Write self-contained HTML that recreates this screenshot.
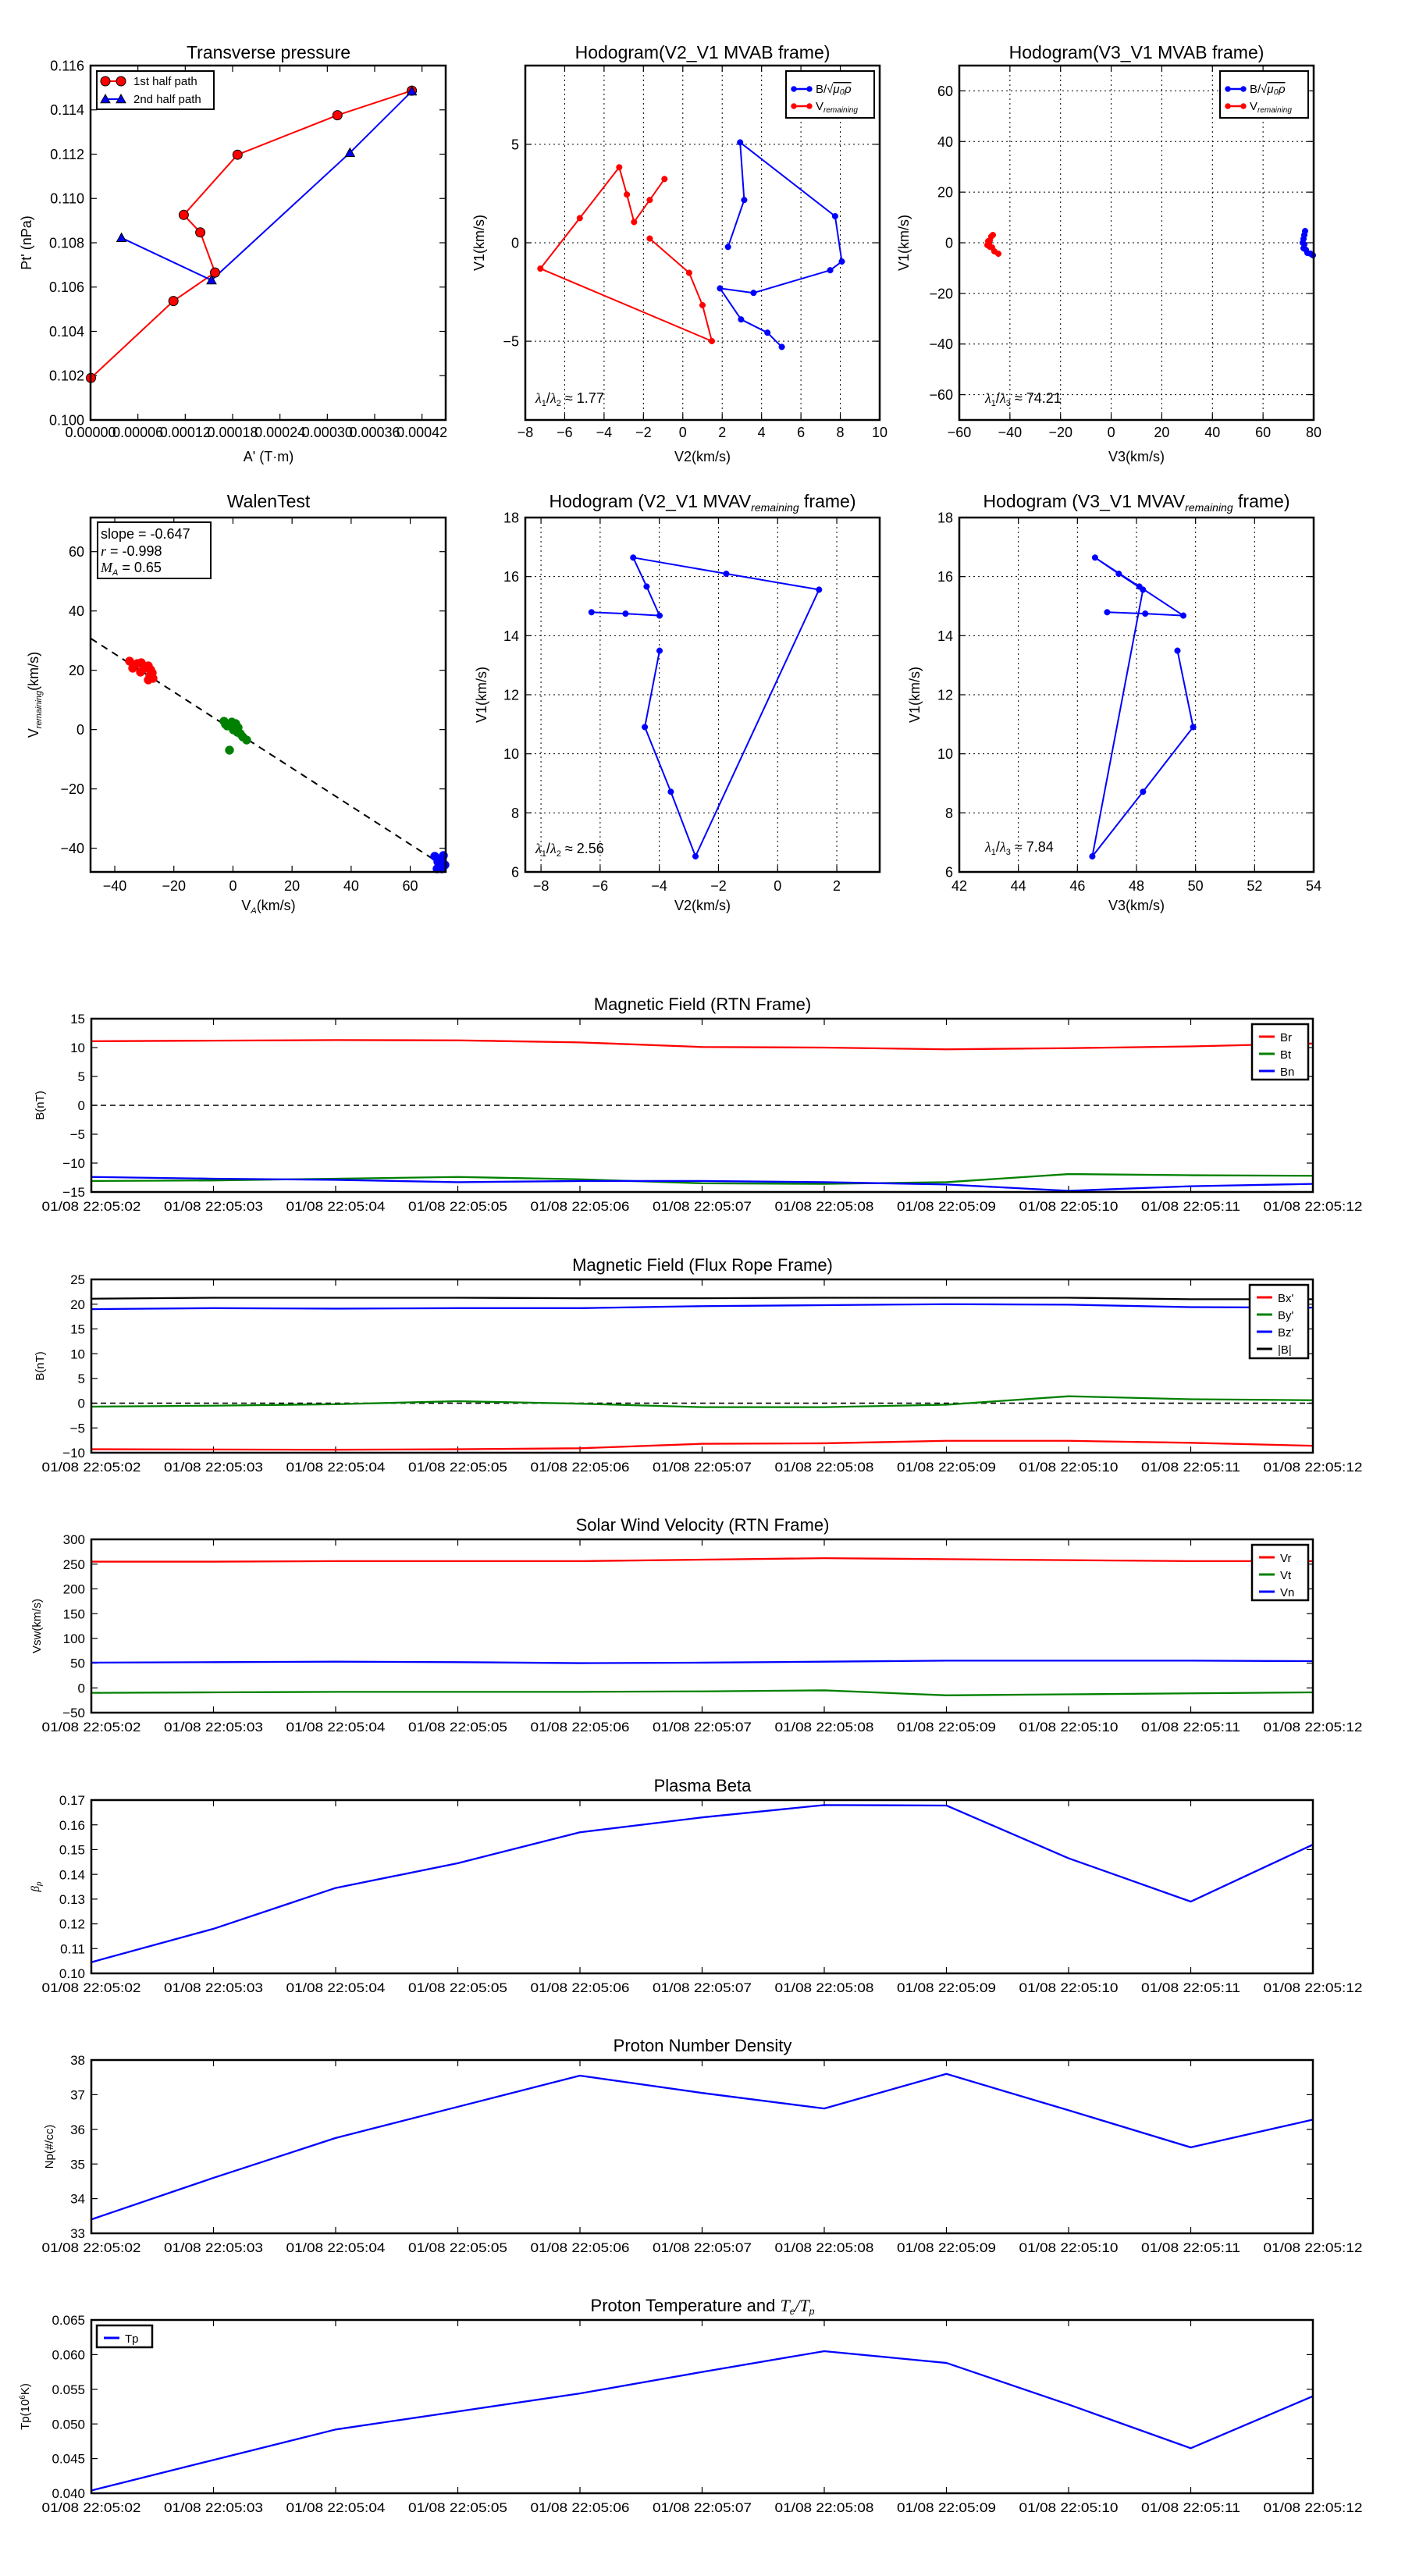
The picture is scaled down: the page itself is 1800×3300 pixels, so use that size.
<!DOCTYPE html>
<html><head><meta charset="utf-8">
<style>
html,body{margin:0;padding:0;background:#fff;}
svg{display:block;font-family:"Liberation Sans","DejaVu Sans",sans-serif;}
</style></head>
<body>
<svg id="s" xmlns="http://www.w3.org/2000/svg" width="1800" height="3300" viewBox="0 0 1800 3300">
<rect width="1800" height="3300" fill="#fff"/>
</svg>
<script>
const NS="http://www.w3.org/2000/svg";
const S=document.getElementById('s');
function el(tag,a,txt,parent){const e=document.createElementNS(NS,tag);for(const k in a)e.setAttribute(k,a[k]);if(txt!==undefined&&txt!==null)e.textContent=txt;(parent||S).appendChild(e);return e;}
function minus(s){return String(s).replace('-','\u2212');}
function Ax(x0,y0,x1,y1,xmin,xmax,ymin,ymax){return{x0,y0,x1,y1,xmin,xmax,ymin,ymax,
 px(v){return x0+(v-xmin)/(xmax-xmin)*(x1-x0);},py(v){return y1-(v-ymin)/(ymax-ymin)*(y1-y0);}};}
function frame(a){el('rect',{x:a.x0,y:a.y0,width:a.x1-a.x0,height:a.y1-a.y0,fill:'none',stroke:'#000','stroke-width':2.5});}
function xticks(a,vals,labels,o){o=o||{};const fs=o.fs||18,tl=8;
 vals.forEach((v,i)=>{const x=a.px(v);
  if(o.grid)el('line',{x1:x,y1:a.y0,x2:x,y2:a.y1,stroke:'#000','stroke-width':1,'stroke-dasharray':'2,4'});
  el('line',{x1:x,y1:a.y1,x2:x,y2:a.y1-tl,stroke:'#000','stroke-width':1.2});
  el('line',{x1:x,y1:a.y0,x2:x,y2:a.y0+tl,stroke:'#000','stroke-width':1.2});
  const t=el('text',{x:x,y:a.y1+(o.dy||23),'font-size':fs,'text-anchor':'middle'},labels[i]);
  if(o.tlen){t.setAttribute('textLength',o.tlen);t.setAttribute('lengthAdjust','spacingAndGlyphs');}
 });}
function yticks(a,vals,labels,o){o=o||{};const fs=o.fs||18,tl=8;
 vals.forEach((v,i)=>{const y=a.py(v);
  if(o.grid)el('line',{x1:a.x0,y1:y,x2:a.x1,y2:y,stroke:'#000','stroke-width':1,'stroke-dasharray':'2,4'});
  el('line',{x1:a.x0,y1:y,x2:a.x0+tl,y2:y,stroke:'#000','stroke-width':1.2});
  el('line',{x1:a.x1,y1:y,x2:a.x1-tl,y2:y,stroke:'#000','stroke-width':1.2});
  el('text',{x:a.x0-8,y:y+fs*0.36,'font-size':fs,'text-anchor':'end'},labels[i]);
 });}
function poly(pts,color,w,dash){el('polyline',{points:pts.map(p=>p.join(',')).join(' '),fill:'none',stroke:color,'stroke-width':w||2,'stroke-linejoin':'round','stroke-dasharray':dash||'none'});}
function dots(pts,color,r){pts.forEach(p=>el('circle',{cx:p[0],cy:p[1],r:r,fill:color,stroke:color,'stroke-width':0.5}));}
function title(x,y,t,fs){return el('text',{x:x,y:y,'font-size':fs||23,'text-anchor':'middle'},t);}
function ylabel(x,y,t,fs){el('text',{x:x,y:y,'font-size':fs||18,'text-anchor':'middle',transform:`rotate(-90 ${x} ${y})`},t);}
function range(a,b,s){const r=[];for(let v=a;v<=b+1e-9;v+=s)r.push(+v.toFixed(6));return r;}

// ===== Row 1 =====
// Transverse pressure
let a=Ax(116,84,571,538,0,0.00045,0.100,0.116);
title(344,75,'Transverse pressure');
let xv=range(0,0.00042,0.00006);
xticks(a,xv,xv.map(v=>v.toFixed(5)),{dy:22});
let yv=range(0.100,0.116,0.002);
yticks(a,yv,yv.map(v=>v.toFixed(3)));
let red=[[116.5,484.2],[222.2,385.6],[275.5,349.1],[256.6,297.7],[235.4,275.3],[304.3,198.2],[432.3,147.6],[527.6,116.1]];
let blue=[[155.6,304.7],[271,359],[448.3,195.7],[527.6,116.9]];
poly(red,'#f00',2);poly(blue,'#00f',2);
red.forEach(p=>el('circle',{cx:p[0],cy:p[1],r:6,fill:'#f00',stroke:'#000','stroke-width':1}));
function tri(x,y,s,c){el('polygon',{points:`${x},${y-s} ${x-s},${y+s*0.8} ${x+s},${y+s*0.8}`,fill:c,stroke:'#000','stroke-width':1});}
blue.forEach(p=>tri(p[0],p[1],6,'#00f'));
frame(a);
el('rect',{x:124,y:91,width:150,height:49,fill:'#fff',stroke:'#000','stroke-width':2});
el('line',{x1:135,y1:104,x2:155,y2:104,stroke:'#f00','stroke-width':2});
el('circle',{cx:135,cy:104,r:6,fill:'#f00',stroke:'#000'});el('circle',{cx:155,cy:104,r:6,fill:'#f00',stroke:'#000'});
el('text',{x:171,y:109,'font-size':15},'1st half path');
el('line',{x1:135,y1:127,x2:155,y2:127,stroke:'#00f','stroke-width':2});
tri(135,127,6,'#00f');tri(155,127,6,'#00f');
el('text',{x:171,y:132,'font-size':15},'2nd half path');
el('text',{x:344,y:591,'font-size':18,'text-anchor':'middle'},"A' (T·m)");
ylabel(40,311,"Pt' (nPa)");

// Hodogram V2_V1 MVAB
a=Ax(673,84,1127,538,-8,10,-9,9);
title(900,75,'Hodogram(V2_V1 MVAB frame)');
xv=range(-8,10,2);xticks(a,xv,xv.map(minus),{grid:true,dy:22});
yv=[-5,0,5];yticks(a,yv,yv.map(minus),{grid:true});
let b1=[[932.7,316.3],[953.4,256.2],[948.2,182.4],[1069.9,277],[1078.5,335],[1063.6,346.2],[965.4,375.2],[922.4,369.4],[949.4,409.2],[983.2,426.2],[1001.6,444.4]];
let r1=[[851.3,229.3],[832.4,256.2],[812.3,284.4],[803.1,249.2],[793.3,214.3],[742.8,279.4],[692.3,344.1],[912,437],[900,391],[882.9,349.5],[832.4,305.6]];
poly(b1,'#00f',2);dots(b1,'#00f',3.8);poly(r1,'#f00',2);dots(r1,'#f00',3.8);
frame(a);
function hlegend(x,y){el('rect',{x:x,y:y,width:113,height:60,fill:'#fff',stroke:'#000','stroke-width':2});
 el('line',{x1:x+10,y1:y+23,x2:x+30,y2:y+23,stroke:'#00f','stroke-width':2.5});dots([[x+10,y+23],[x+30,y+23]],'#00f',3.5);
 const t=el('text',{x:x+38,y:y+28,'font-size':15},'B/√');el('tspan',{'font-style':'italic','text-decoration':'overline'},'μ₀ρ',t);
 el('line',{x1:x+10,y1:y+45,x2:x+30,y2:y+45,stroke:'#f00','stroke-width':2.5});dots([[x+10,y+45],[x+30,y+45]],'#f00',3.5);
 const t2=el('text',{x:x+38,y:y+50,'font-size':15},'V');el('tspan',{'font-size':10,'font-style':'italic',dy:3},'remaining',t2);}
hlegend(1007,91);
function lam(x,y,sub,val){const t=el('text',{x:x,y:y,'font-size':18},'');
 el('tspan',{'font-style':'italic','font-family':'Liberation Serif, serif'},'λ',t);el('tspan',{'font-size':11,dy:4},'1',t);
 el('tspan',{dy:-4},'/',t);el('tspan',{'font-style':'italic','font-family':'Liberation Serif, serif'},'λ',t);el('tspan',{'font-size':11,dy:4},sub,t);
 el('tspan',{dy:-4},' ≈ '+val,t);}
lam(686,516,'2','1.77');
el('text',{x:900,y:591,'font-size':18,'text-anchor':'middle'},'V2(km/s)');
ylabel(620,311,'V1(km/s)');

// Hodogram V3_V1 MVAB
a=Ax(1229,84,1683,538,-60,80,-70,70);
title(1456,75,'Hodogram(V3_V1 MVAB frame)');
xv=range(-60,80,20);xticks(a,xv,xv.map(minus),{grid:true,dy:22});
yv=range(-60,60,20);yticks(a,yv,yv.map(minus),{grid:true});
let r3=[[1272,301],[1270,303],[1268,308],[1266,309],[1267,312],[1265,314],[1268,316],[1271,317],[1274,322],[1279,325]];
let b3=[[1672,296],[1671,301],[1670,306],[1669,311],[1671,313],[1670,318],[1673,320],[1675,324],[1679,325],[1682,327]];
poly(r3,'#f00',2);dots(r3,'#f00',3.8);poly(b3,'#00f',2);dots(b3,'#00f',3.8);
frame(a);
hlegend(1563,91);
lam(1262,516,'3','74.21');
el('text',{x:1456,y:591,'font-size':18,'text-anchor':'middle'},'V3(km/s)');
ylabel(1164,311,'V1(km/s)');

// ===== Row 2 =====
// WalenTest
a=Ax(116,663,571,1117,-48.2,72,-48,71.5);
title(344,650,'WalenTest');
xv=range(-40,60,20);xticks(a,xv,xv.map(minus),{dy:24});
yv=range(-40,60,20);yticks(a,yv,yv.map(minus));
el('line',{x1:116.5,y1:818,x2:568,y2:1109,stroke:'#000','stroke-width':2,'stroke-dasharray':'9,7'});
let rw=[[166,847],[171,852],[176,850],[181,849],[184,853],[187,856],[190,853],[193,858],[195,862],[192,866],[196,869],[190,871],[170,856],[180,861]];
let gw=[[287,924],[291,930],[297,925],[302,927],[305,932],[304,938],[308,940],[311,944],[316,948],[294,961],[289,928],[299,935]];
let bw=[[557,1097],[561,1104],[565,1100],[568,1096],[562,1110],[566,1113],[570,1108],[560,1113]];
dots(rw,'#f00',5.5);dots(gw,'#008000',5.5);dots(bw,'#00f',5.5);
frame(a);
el('rect',{x:125,y:669,width:145,height:72,fill:'#fff',stroke:'#000','stroke-width':2});
el('text',{x:129,y:690,'font-size':18},'slope = -0.647');
let tt=el('text',{x:129,y:712,'font-size':18},'');el('tspan',{'font-style':'italic','font-family':'Liberation Serif, serif'},'r',tt);el('tspan',{},' = -0.998',tt);
tt=el('text',{x:129,y:733,'font-size':18},'');el('tspan',{'font-style':'italic','font-family':'Liberation Serif, serif'},'M',tt);el('tspan',{'font-size':11,dy:4,'font-style':'italic'},'A',tt);el('tspan',{dy:-4},' = 0.65',tt);
tt=el('text',{x:344,y:1166,'font-size':18,'text-anchor':'middle'},'V');el('tspan',{'font-size':11,dy:4,'font-style':'italic'},'A',tt);el('tspan',{dy:-4},'(km/s)',tt);
tt=el('text',{x:49,y:890,'font-size':18,'text-anchor':'middle',transform:'rotate(-90 49 890)'},'V');el('tspan',{'font-size':11,dy:4,'font-style':'italic'},'remaining',tt);el('tspan',{dy:-4},'(km/s)',tt);

// Hodogram V2_V1 MVAV
a=Ax(673,663,1127,1117,-8.53,3.45,6,18);
tt=title(900,650,'Hodogram (V2_V1 MVAV');el('tspan',{'font-size':14,'font-style':'italic',dy:5},'remaining',tt);el('tspan',{dy:-5},' frame)',tt);
xv=range(-8,2,2);xticks(a,xv,xv.map(minus),{grid:true,dy:24});
yv=range(6,18,2);yticks(a,yv,yv.map(String),{grid:true});
let p4=[[757.8,784.3],[801.4,786.1],[845,788.6],[828.4,751.4],[811.2,714.3],[930.4,735],[1049.3,755.4],[891,1097],[859.4,1014.3],[826.1,931.4],[845,833.6]];
poly(p4,'#00f',2);dots(p4,'#00f',3.8);
frame(a);
lam(686,1093,'2','2.56');
el('text',{x:900,y:1166,'font-size':18,'text-anchor':'middle'},'V2(km/s)');
ylabel(623,890,'V1(km/s)');

// Hodogram V3_V1 MVAV
a=Ax(1229,663,1683,1117,42,54,6,18);
tt=title(1456,650,'Hodogram (V3_V1 MVAV');el('tspan',{'font-size':14,'font-style':'italic',dy:5},'remaining',tt);el('tspan',{dy:-5},' frame)',tt);
xv=range(42,54,2);xticks(a,xv,xv.map(String),{grid:true,dy:24});
yv=range(6,18,2);yticks(a,yv,yv.map(String),{grid:true});
let p5=[[1418.4,784.3],[1467.2,786.1],[1516,788.6],[1459.7,751.4],[1402.9,714.3],[1433.3,735],[1464.3,755.4],[1399.4,1097.1],[1464.3,1014.3],[1528.6,931.4],[1508.5,833.6]];
poly(p5,'#00f',2);dots(p5,'#00f',3.8);
frame(a);
lam(1262,1091,'3','7.84');
el('text',{x:1456,y:1166,'font-size':18,'text-anchor':'middle'},'V3(km/s)');
ylabel(1178,890,'V1(km/s)');

// ===== Time series =====
const times=['01/08 22:05:02','01/08 22:05:03','01/08 22:05:04','01/08 22:05:05','01/08 22:05:06','01/08 22:05:07','01/08 22:05:08','01/08 22:05:09','01/08 22:05:10','01/08 22:05:11','01/08 22:05:12'];
function ts(top,ymin,ymax,yvals,ylabels,series,ttl,ylab,ylx,opts){
 opts=opts||{};
 const a=Ax(117,top,1682,top+222,0,10,ymin,ymax);
 const t=title(900,top-11,ttl,22);
 if(opts.titleExtra)opts.titleExtra(t);
 xticks(a,range(0,10,1),times,{fs:17,dy:24,tlen:127});
 yticks(a,yvals,ylabels,{fs:17});
 if(opts.zero)el('line',{x1:a.x0,y1:a.py(0),x2:a.x1,y2:a.py(0),stroke:'#000','stroke-width':1.6,'stroke-dasharray':'7,5'});
 series.forEach(s=>poly(s.d.map((v,i)=>[a.px(i),a.py(v)]),s.c,2.3));
 frame(a);
 if(opts.legend){const L=opts.legend;
  el('rect',{x:L.x,y:L.y,width:L.w,height:L.h,fill:'#fff',stroke:'#000','stroke-width':2.5});
  L.items.forEach((it,i)=>{const yy=L.y+16+i*L.step;
   el('line',{x1:L.x+9,y1:yy,x2:L.x+29,y2:yy,stroke:it.c,'stroke-width':3});
   el('text',{x:L.x+36,y:yy+6,'font-size':15},it.n);});}
 const cy=top+111;
 const tl=el('text',{x:ylx,y:cy,'font-size':15,'text-anchor':'middle',transform:`rotate(-90 ${ylx} ${cy})`},'');
 ylab(tl);
 return a;}
function plain(s){return t=>{t.textContent=s;};}
ts(1305,-15,15,range(-15,15,5),range(-15,15,5).map(minus),[
 {c:'#f00',d:[11.1,11.2,11.3,11.25,10.9,10.1,10.0,9.7,9.9,10.2,10.7]},
 {c:'#008000',d:[-13.1,-13.0,-12.7,-12.4,-12.8,-13.5,-13.6,-13.3,-11.9,-12.1,-12.2]},
 {c:'#00f',d:[-12.4,-12.7,-12.9,-13.3,-13.1,-13.1,-13.3,-13.7,-14.8,-14.0,-13.6]}],
 'Magnetic Field (RTN Frame)',plain('B(nT)'),56,{zero:true,legend:{x:1604,y:1312,w:72,h:71,step:22,items:[{c:'#f00',n:'Br'},{c:'#008000',n:'Bt'},{c:'#00f',n:'Bn'}]}});
ts(1639,-10,25,range(-10,25,5),range(-10,25,5).map(minus),[
 {c:'#f00',d:[-9.3,-9.35,-9.4,-9.3,-9.1,-8.2,-8.1,-7.6,-7.6,-8.0,-8.6]},
 {c:'#008000',d:[-0.7,-0.5,-0.2,0.4,-0.1,-0.8,-0.8,-0.3,1.4,0.8,0.6]},
 {c:'#00f',d:[19.0,19.2,19.1,19.2,19.2,19.6,19.8,20.0,19.9,19.4,19.3]},
 {c:'#000',d:[21.1,21.3,21.3,21.3,21.2,21.2,21.3,21.3,21.3,21.0,21.0]}],
 'Magnetic Field (Flux Rope Frame)',plain('B(nT)'),56,{zero:true,legend:{x:1601,y:1646,w:75,h:94,step:22,items:[{c:'#f00',n:"Bx'"},{c:'#008000',n:"By'"},{c:'#00f',n:"Bz'"},{c:'#000',n:'|B|'}]}});
ts(1972,-50,300,range(-50,300,50),range(-50,300,50).map(minus),[
 {c:'#f00',d:[255,255,256,256,256,259,262,260,258,256,256]},
 {c:'#008000',d:[-10,-9,-8,-8,-8,-7,-5,-15,-13,-11,-9]},
 {c:'#00f',d:[51,52,53,52,50,51,53,55,55,55,54]}],
 'Solar Wind Velocity (RTN Frame)',plain('Vsw(km/s)'),52,{legend:{x:1604,y:1979,w:72,h:71,step:22,items:[{c:'#f00',n:'Vr'},{c:'#008000',n:'Vt'},{c:'#00f',n:'Vn'}]}});
ts(2306,0.10,0.17,range(0.10,0.17,0.01),range(0.10,0.17,0.01).map(v=>v.toFixed(2)),[
 {c:'#00f',d:[0.1045,0.118,0.1345,0.1445,0.157,0.163,0.168,0.1678,0.1465,0.129,0.152]}],
 'Plasma Beta',t=>{el('tspan',{'font-style':'italic','font-family':'Liberation Serif, serif'},'β',t);el('tspan',{'font-size':10,'font-style':'italic',dy:3},'p',t);},50);
ts(2639,33,38,range(33,38,1),range(33,38,1).map(String),[
 {c:'#00f',d:[33.4,34.6,35.75,36.65,37.55,37.05,36.6,37.6,36.55,35.48,36.28]}],
 'Proton Number Density',plain('Np(#/cc)'),68);
ts(2972,0.040,0.065,range(0.040,0.065,0.005),range(0.040,0.065,0.005).map(v=>v.toFixed(3)),[
 {c:'#00f',d:[0.0404,0.0448,0.0492,0.0518,0.0544,0.0575,0.0605,0.0588,0.0528,0.0465,0.0540]}],
 'Proton Temperature and ',t=>{t.textContent='Tp(10';el('tspan',{'font-size':10,dy:-5},'6',t);el('tspan',{dy:5},'K)',t);},37,
 {titleExtra:t=>{el('tspan',{'font-style':'italic','font-family':'Liberation Serif, serif'},'T',t);el('tspan',{'font-size':12,'font-style':'italic',dy:4},'e',t);el('tspan',{'font-style':'italic','font-family':'Liberation Serif, serif',dy:-4},'/T',t);el('tspan',{'font-size':12,'font-style':'italic',dy:4},'p',t);},
  legend:{x:124,y:2979,w:71,h:28,step:22,items:[{c:'#00f',n:'Tp'}]}});
</script>
</body></html>
